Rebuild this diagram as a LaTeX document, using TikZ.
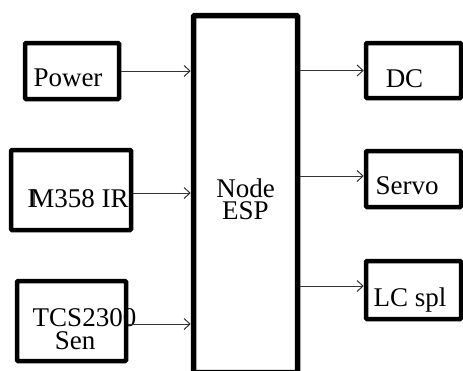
\documentclass[tikz,border=0pt]{standalone}
\usepackage{fontspec}
\setmainfont{Liberation Serif}
\usetikzlibrary{arrows.meta}
\tikzset{
  blk/.style={draw,line width=4.5pt,rounded corners=1pt,inner sep=0pt},
  lbl/.style={font=\fontsize{27}{22}\selectfont,inner sep=0pt,anchor=base},
  wire/.style={-{Straight Barb[length=6pt,width=11pt]},line width=1pt,black!80}
}
\begin{document}
\begin{tikzpicture}[x=1pt,y=-1pt]
\useasboundingbox (0,0) rectangle (463,370);

% inputs
\node[blk,minimum width=94pt,minimum height=56pt] (power) at (72,71) {};
\node[lbl] (powerlbl) at (68,86) {Power};

\node[blk,minimum width=120pt,minimum height=80pt] (ir) at (71,190) {};
\node[lbl] (irlbl) at (78,207) {I\kern-0.22em M358 IR};

\node[blk,minimum width=109pt,minimum height=80pt] (tcs) at (71.5,321) {};
\node[lbl] (tcslbl) at (84.5,326) {TCS2300};
\node[lbl] (senlbl) at (75,349) {Sen};

% controller
\node[blk,line width=5.5pt,minimum width=104pt,minimum height=357pt] (esp) at (245.5,194) {};
\node[lbl,anchor=center,align=center] (esplbl) at (245.5,199) {Node\\ESP};

% outputs
\node[blk,minimum width=95pt,minimum height=55pt] (dc) at (413.5,70.5) {};
\node[lbl] (dclbl) at (404.5,87) {DC};

\node[blk,minimum width=95pt,minimum height=56pt] (servo) at (413.5,179) {};
\node[lbl] (servolbl) at (407,194) {Servo};

\node[blk,minimum width=95pt,minimum height=58pt] (lcd) at (413.5,290) {};
\node[lbl] (lcdlbl) at (410,306) {LC spl};

\draw[wire] (power.east) -- (power.east -| esp.west);
\draw[wire] ([yshift=-3pt]ir.east) -- ([yshift=-3pt]ir.east -| esp.west);
\draw[wire] ([yshift=-3pt]tcs.east) -- ([yshift=-3pt]tcs.east -| esp.west);

\draw[wire] (esp.east |- dc.west) -- (dc.west);
\draw[wire] ([yshift=3pt]esp.east |- servo.west) -- ([yshift=3pt]servo.west);
\draw[wire] ([yshift=4pt]esp.east |- lcd.west) -- ([yshift=4pt]lcd.west);
\end{tikzpicture}
\end{document}
